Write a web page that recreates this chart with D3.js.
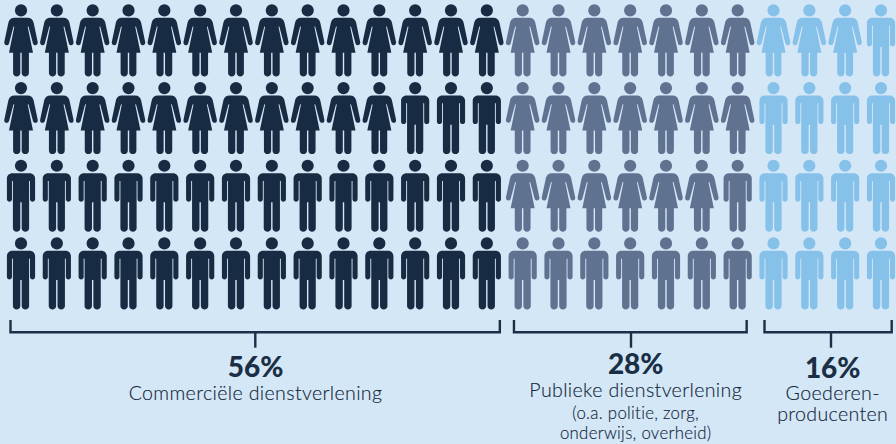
<!DOCTYPE html>
<html lang="nl">
<head>
<meta charset="utf-8">
<title>Werkgelegenheid per sector</title>
<script src="https://cdn.jsdelivr.net/npm/d3@7"></script>
<style>
  html, body { margin: 0; padding: 0; background: #d4e7f7; }
  svg { display: block; }
  text { font-family: Lato, "Open Sans", sans-serif; text-anchor: middle; fill: #1a2f45; }
  .share { font-size: 28px; font-weight: 900; }
  .name { font-size: 19.6px; font-weight: 300; letter-spacing: 0.35px; fill: #14283d; stroke: #14283d; stroke-width: 0.15px; }
  .note { font-size: 16.8px; font-weight: 300; letter-spacing: 0.3px; fill: #14283d; stroke: #14283d; stroke-width: 0.15px; }
</style>
</head>
<body>
<svg id="chart" width="896" height="444"></svg>
<script>
// One hundred employees, split over three sectors.
const sectors = ["Commerciële dienstverlening", "Publieke dienstverlening", "Goederenproducenten"];
const shares = [56, 28, 16];
const columnsPerSector = [14, 7, 4];
const rowCount = 4;
// Women per row of the grid, listed per sector; the rest of a row are men.
const womenPerRowCommercial = [14, 11, 0, 0];
const womenPerRowPublic = [7, 7, 6, 0];
const womenPerRowGoods = [3, 0, 0, 0];
const sectorColors = ["#172c42", "#5f7391", "#86c1e9"];
const shareLabels = ["56%", "28%", "16%"];
const nameLabels = [["Commerciële dienstverlening"], ["Publieke dienstverlening"], ["Goederen-", "producenten"]];
const noteLabels = [[], ["(o.a. politie, zorg,", "onderwijs, overheid)"], []];

const womenPerRow = [womenPerRowCommercial, womenPerRowPublic, womenPerRowGoods];
const svg = d3.select("#chart");

// Pictogram outlines, drawn around the centre of the head.
const manBody = "M-8.6 7.4H8.6C11.9 7.4 14.1 9.8 14.1 12.9V33.6C14.1 36.8 9 36.8 9 33.6V15.3H8.1V62.6C8.1 67.2 .7 67.2 .7 62.6V36.6H-.7V62.6C-.7 67.2-8.1 67.2-8.1 62.6V15.3H-9V33.6C-9 36.8-14.1 36.8-14.1 33.6V12.9C-14.1 9.8-11.9 7.4-8.6 7.4Z";
const womanBody = "M-6.5 7.4H6.5C9.8 7.4 11.8 9.2 12.6 12.2L16.7 31.6C17.4 35.2 12.7 36 11.9 32.8L7.5 16.2L6.7 16.4L12 42.4H7.9V62.6C7.9 67.2 .7 67.2 .7 62.6V42.4H-.7V62.6C-.7 67.2-7.9 67.2-7.9 62.6V42.4H-12L-6.7 16.4L-7.5 16.2L-11.9 32.8C-12.7 36-17.4 35.2-16.7 31.6L-12.6 12.2C-11.8 9.2-9.8 7.4-6.5 7.4Z";

const defs = svg.append("defs");
const addIcon = (id, body) => {
  const g = defs.append("g").attr("id", id);
  g.append("circle").attr("r", 6.1);
  g.append("path").attr("d", body);
};
addIcon("woman", womanBody);
addIcon("man", manBody);

const columnCount = d3.sum(columnsPerSector);
const x = d3.scalePoint().domain(d3.range(columnCount)).range([21, 881]);
const y = d3.scalePoint().domain(d3.range(rowCount)).range([10.4, 243.4]);

// Expand the per-sector tallies into one record per person.
const firstColumn = d3.cumsum([0, ...columnsPerSector]);
const people = sectors.flatMap((sector, s) =>
  d3.range(rowCount).flatMap(row =>
    d3.range(columnsPerSector[s]).map(c => ({
      sector: s,
      row,
      column: firstColumn[s] + c,
      icon: c < womenPerRow[s][row] ? "woman" : "man"
    }))
  )
);

svg.append("g").selectAll("use")
  .data(people)
  .join("use")
  .attr("href", d => `#${d.icon}`)
  .attr("x", d => x(d.column))
  .attr("y", d => y(d.row))
  .attr("fill", d => sectorColors[d.sector]);

// Brackets under each sector's columns.
const bracketInset = [[10.5, 13], [8.7, 9], [9, 10.7]];
const tickX = [255.3, 631, 831];
const labelX = [255.5, 635.7, 832.7];
const shareY = [377, 374, 378];
const nameY = [[399.5], [397], [400, 421]];
const noteY = [[], [418.6, 439], []];

const brackets = svg.append("g")
  .attr("fill", "none")
  .attr("stroke", "#1b3047")
  .attr("stroke-width", 2.4);

sectors.forEach((sector, s) => {
  const left = x(firstColumn[s]) - bracketInset[s][0];
  const right = x(firstColumn[s] + columnsPerSector[s] - 1) + bracketInset[s][1];
  brackets.append("path").attr("d", d3.line()([[left, 320], [left, 332.3], [right, 332.3], [right, 320]]));
  brackets.append("path").attr("d", d3.line()([[tickX[s], 332.3], [tickX[s], 347.7]]));

  svg.append("text").attr("class", "share").attr("x", labelX[s]).attr("y", shareY[s]).text(shareLabels[s]);
  nameLabels[s].forEach((line, i) => {
    svg.append("text").attr("class", "name").attr("x", labelX[s]).attr("y", nameY[s][i]).text(line);
  });
  noteLabels[s].forEach((line, i) => {
    svg.append("text").attr("class", "note").attr("x", labelX[s]).attr("y", noteY[s][i]).text(line);
  });
});
</script>
</body>
</html>
